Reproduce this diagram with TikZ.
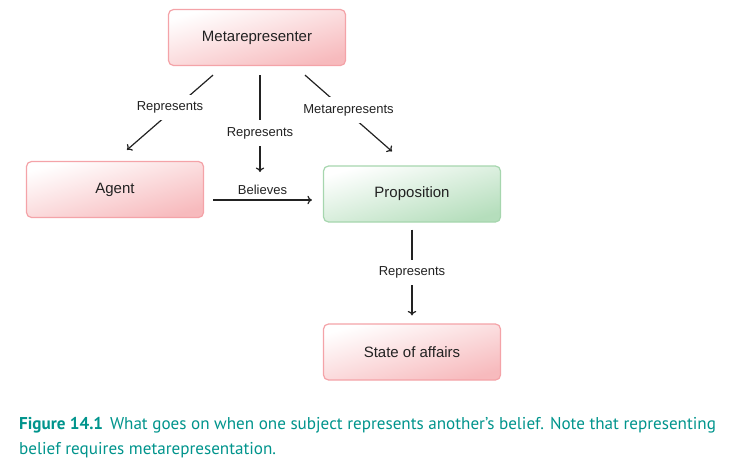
\documentclass[tikz,border=0pt]{standalone}
\usepackage{fontspec}
\setmainfont{Liberation Sans}
\newfontfamily\capfont{PT Sans}
\usetikzlibrary{arrows.meta,calc}
\definecolor{pinkfill}{HTML}{F7BABD}
\definecolor{pinkline}{HTML}{F4A3A8}
\definecolor{greenfill}{HTML}{B5DEBC}
\definecolor{greenline}{HTML}{A6D6AE}
\definecolor{ink}{HTML}{222222}
\definecolor{teal}{HTML}{00948C}
\tikzset{
  box/.style={rounded corners=5pt, line width=1.2pt, minimum width=177pt, minimum height=56pt,
    font=\fontsize{15}{18}\selectfont, text=ink},
  pinkbox/.style={box, draw=pinkline, top color=white, bottom color=pinkfill, shading angle=16},
  greenbox/.style={box, draw=greenline, top color=white, bottom color=greenfill, shading angle=16},
  conn/.style={draw=ink, line width=1.2pt, -{To[length=4.5pt,width=8.5pt]}},
  elabel/.style={fill=white, inner xsep=2pt, inner ysep=7pt, font=\fontsize{13}{15}\selectfont, text=ink},
}
\begin{document}
\begin{tikzpicture}[x=1pt,y=-1pt]
\useasboundingbox (0,0) rectangle (740,471);
\node[pinkbox] (meta) at (257,37.5) {Metarepresenter};
\node[pinkbox] (agent) at (115,189.5) {Agent};
\node[greenbox] (prop) at (412,194) {Proposition};
\node[pinkbox] (state) at (412,352) {State of affairs};
\coordinate (midend) at (260,172);

\draw[conn] ([xshift=-44pt,yshift=-9pt]meta.south) -- node[elabel, pos=0.5, yshift=5pt]{Represents} ([xshift=12pt,yshift=11pt]agent.north);
\draw[conn] ([xshift=3pt,yshift=-9pt]meta.south) -- node[elabel, pos=0.6]{Represents} (midend);
\draw[conn] ([xshift=48pt,yshift=-9pt]meta.south) -- node[elabel, pos=0.5, yshift=3pt]{Metarepresents} ([xshift=-20pt,yshift=14pt]prop.north);
\draw[conn] ([xshift=9pt,yshift=-10.5pt]agent.east) -- node[above, font=\fontsize{13}{15}\selectfont, text=ink, inner sep=5pt]{Believes} ([xshift=-11pt,yshift=-6pt]prop.west);
\draw[conn] ([yshift=-7pt]prop.south) -- node[elabel]{Represents} ([yshift=8pt]state.north);

\node[anchor=north west, align=left, text=teal, inner sep=0pt, font=\capfont\fontsize{17.1}{25}\selectfont] (cap) at (19,417)
  {\textbf{Figure 14.1}\hspace{0.4em}What goes on when one subject represents another’s belief. Note that representing\\belief requires metarepresentation.};
\end{tikzpicture}
\end{document}
